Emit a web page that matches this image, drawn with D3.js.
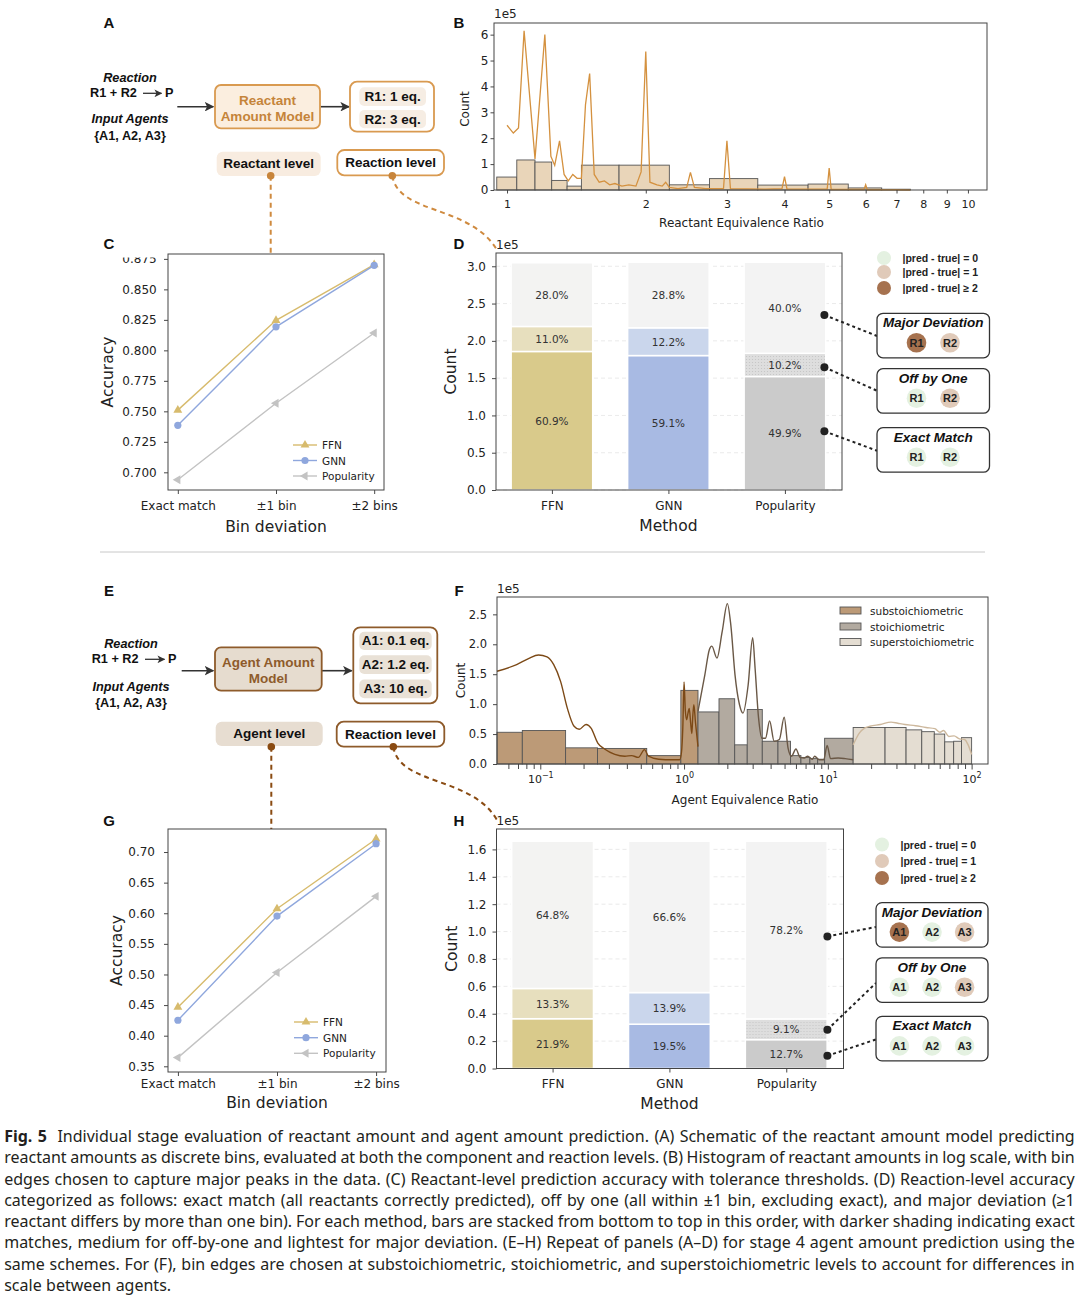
<!DOCTYPE html>
<html>
<head>
<meta charset="utf-8">
<title>Fig. 5</title>
<script src="https://cdn.jsdelivr.net/npm/d3@7"></script>
<style>
  body { margin: 0; background: #fff; }
</style>
</head>
<body>
<div id="fig"></div>
<script>
// ---------------- data ----------------
var methods = ["FFN", "GNN", "Popularity"];
var deviationLabels = ["Exact match", "±1 bin", "±2 bins"];

// (B) reactant equivalence ratio histogram, counts in 1e5
var reactantEdges = [0.95, 1.05, 1.15, 1.25, 1.35, 1.45, 1.75, 2.25, 2.75, 3.5, 4.5, 5.5, 6.5, 7.5];
var reactantCounts = [0.50, 1.16, 1.08, 0.37, 0.15, 0.96, 0.96, 0.20, 0.44, 0.19, 0.23, 0.08, 0.03];
// fine distribution (orange line)
var reactantLineX = [1.00, 1.032, 1.059, 1.089, 1.15, 1.208, 1.245, 1.269, 1.30, 1.33, 1.358, 1.389, 1.419, 1.45, 1.48, 1.511, 1.546, 1.585, 1.627, 1.67, 1.714, 1.775, 1.838, 1.904, 1.954, 2.0, 2.042, 2.115, 2.171, 2.209, 2.25, 2.349, 2.454, 2.5, 2.55, 2.70, 2.949, 3.0, 3.053, 3.64, 3.95, 4.0, 4.05, 4.95, 5.0, 5.05, 5.95, 6.0, 6.05, 7.0, 7.5];
var reactantLineY = [2.50, 2.20, 2.40, 6.15, 1.20, 6.00, 1.30, 0.95, 1.90, 0.60, 0.35, 0.60, 0.45, 0.45, 3.30, 4.50, 0.60, 0.30, 0.35, 0.20, 0.25, 0.15, 0.20, 0.15, 0.70, 5.35, 0.30, 0.20, 0.15, 0.30, 0.10, 0.05, 0.10, 0.68, 0.10, 0.05, 0.05, 1.90, 0.05, 0.03, 0.05, 0.52, 0.03, 0.03, 0.85, 0.02, 0.02, 0.20, 0.01, 0.01, 0.00];

// (C) reactant-level accuracy
var reactantAccFFN = [0.751, 0.8246, 0.8702];
var reactantAccGNN = [0.7385, 0.8193, 0.8697];
var reactantAccPop = [0.6939, 0.7566, 0.8142];

// (D) reaction-level outcome shares [exact, off by one, major], total in 1e5
var reactantTotal = 3.05;
var reactantPctFFN = [60.9, 11.0, 28.0];
var reactantPctGNN = [59.1, 12.2, 28.8];
var reactantPctPop = [49.9, 10.2, 40.0];

// (F) agent equivalence ratio histogram, counts in 1e5
var subEdges = [0.05, 0.075, 0.15, 0.25, 0.55, 0.95, 1.25];
var subCounts = [0.53, 0.56, 0.27, 0.26, 0.14, 1.23];
var stoichEdges = [1.25, 1.75, 2.25, 2.75, 3.5, 4.5, 5.5, 6.5, 7.5, 8.5, 9.5, 15];
var stoichCounts = [0.87, 1.09, 0.32, 0.91, 0.38, 0.38, 0.14, 0.11, 0.09, 0.08, 0.43];
var superEdges = [15, 25, 35, 45, 55, 65, 75, 85, 100];
var superCounts = [0.61, 0.61, 0.57, 0.54, 0.50, 0.37, 0.38, 0.44];
var subLineX = [0.05, 0.0685, 0.0828, 0.0973, 0.1114, 0.124, 0.1384, 0.1543, 0.1718, 0.1866, 0.208, 0.2255, 0.2512, 0.28, 0.33, 0.3875, 0.4317, 0.4809, 0.5306, 0.5662, 0.6668, 0.8279, 0.932, 0.96, 0.98, 1.0, 1.02, 1.043, 1.065, 1.087, 1.11, 1.133, 1.15, 1.17, 1.2, 1.25];
var subLineY = [1.55, 1.66, 1.76, 1.82, 1.79, 1.66, 1.38, 0.93, 0.63, 0.58, 0.66, 0.60, 0.35, 0.25, 0.16, 0.13, 0.14, 0.11, 0.24, 0.13, 0.08, 0.07, 0.07, 0.20, 0.60, 1.37, 0.90, 0.74, 0.85, 0.93, 0.70, 0.51, 0.80, 0.99, 0.70, 0.29];
var stoichLineX = [1.25, 1.395, 1.499, 1.559, 1.694, 1.841, 2.0, 2.115, 2.261, 2.43, 2.568, 2.791, 3.0, 3.119, 3.297, 3.484, 3.683, 3.937, 4.232, 4.6, 4.97, 5.284, 5.585, 6.0, 6.414, 6.856, 7.247, 7.793, 8.1, 8.71, 9.36, 9.89, 10.45, 11.8, 13.2, 15.0];
var stoichLineY = [0.88, 1.49, 1.91, 1.97, 1.77, 2.21, 2.68, 2.32, 1.49, 0.99, 0.85, 1.32, 2.11, 1.60, 0.77, 0.43, 0.43, 0.72, 0.38, 0.41, 0.78, 0.27, 0.13, 0.25, 0.11, 0.10, 0.13, 0.08, 0.13, 0.07, 0.07, 0.31, 0.09, 0.10, 0.09, 0.07];
var superLineX = [15, 16.6, 18.0, 19.6, 23.2, 27.5, 30.7, 34.4, 40.7, 48.2, 55.5, 60.3, 63.8, 69.4, 75.5, 82.2, 89.3, 94.6, 100];
var superLineY = [0.32, 0.52, 0.60, 0.63, 0.66, 0.70, 0.68, 0.66, 0.64, 0.61, 0.59, 0.53, 0.56, 0.46, 0.47, 0.42, 0.41, 0.32, 0.16];
var agentBinNames = ["substoichiometric", "stoichiometric", "superstoichiometric"];

// (G) agent-level accuracy
var agentAccFFN = [0.4465, 0.6073, 0.7213];
var agentAccGNN = [0.4252, 0.5953, 0.7136];
var agentAccPop = [0.3642, 0.5033, 0.6276];

// (H) reaction-level outcome shares [exact, off by one, major], total in 1e5
var agentTotal = 1.66;
var agentPctFFN = [21.9, 13.3, 64.8];
var agentPctGNN = [19.5, 13.9, 66.6];
var agentPctPop = [12.7, 9.1, 78.2];

// category legend + example boxes (0 = exact, 1 = off by one, 2 = major)
var deviationLegend = ["|pred - true| = 0", "|pred - true| = 1", "|pred - true| ≥ 2"];
var reactantBoxes = [
  {title: "Major Deviation", items: ["R1", "R2"], states: [2, 1]},
  {title: "Off by One", items: ["R1", "R2"], states: [0, 1]},
  {title: "Exact Match", items: ["R1", "R2"], states: [0, 0]}
];
var agentBoxes = [
  {title: "Major Deviation", items: ["A1", "A2", "A3"], states: [2, 0, 1]},
  {title: "Off by One", items: ["A1", "A2", "A3"], states: [0, 0, 1]},
  {title: "Exact Match", items: ["A1", "A2", "A3"], states: [0, 0, 0]}
];

var captionLines = [
  "Fig. 5 Individual stage evaluation of reactant amount and agent amount prediction. (A) Schematic of the reactant amount model predicting",
  "reactant amounts as discrete bins, evaluated at both the component and reaction levels. (B) Histogram of reactant amounts in log scale, with bin",
  "edges chosen to capture major peaks in the data. (C) Reactant-level prediction accuracy with tolerance thresholds. (D) Reaction-level accuracy",
  "categorized as follows: exact match (all reactants correctly predicted), off by one (all within ±1 bin, excluding exact), and major deviation (≥1",
  "reactant differs by more than one bin). For each method, bars are stacked from bottom to top in this order, with darker shading indicating exact",
  "matches, medium for off-by-one and lightest for major deviation. (E–H) Repeat of panels (A–D) for stage 4 agent amount prediction using the",
  "same schemes. For (F), bin edges are chosen at substoichiometric, stoichiometric, and superstoichiometric levels to account for differences in",
  "scale between agents."
];

// ---------------- styles ----------------
var seriesStyle = [
  {name: "FFN", color: "#d7bb6d", symbol: "up"},
  {name: "GNN", color: "#8fa7dd", symbol: "circle"},
  {name: "Popularity", color: "#c3c3c3", symbol: "left"}
];
var stackColors = {
  FFN: ["#d9ca8b", "#e7dfbe", "#f3f3f2"],
  GNN: ["#a8bae3", "#cad6ec", "#f3f3f3"],
  Popularity: ["#cbcbcb", "url(#speckle)", "#f3f3f3"]
};
var deviationColors = ["#e4f1e1", "#e0cab9", "#a6724f"];
var agentBinColors = ["#bc9a77", "#b2aaa0", "#e4ddd2"];
var agentLineColors = ["#7c4916", "#6a5846", "#cdb89d"];
var sansFont = "'DejaVu Sans', sans-serif";
var arialFont = "'Liberation Sans', Arial, sans-serif";

var svg = d3.select("#fig")
  .append("svg")
  .attr("width", 1080)
  .attr("height", 1295)
  .style("font-family", sansFont);

var defs = svg.append("defs");
var speckle = defs.append("pattern")
  .attr("id", "speckle")
  .attr("width", 3).attr("height", 3)
  .attr("patternUnits", "userSpaceOnUse");
speckle.append("rect").attr("width", 3).attr("height", 3).attr("fill", "#dedede");
speckle.append("circle").attr("cx", 1.5).attr("cy", 1.5).attr("r", 0.6).attr("fill", "#c4c4c4");

function addArrowMarker(id, color) {
  defs.append("marker")
    .attr("id", id)
    .attr("viewBox", "0 0 10 10")
    .attr("refX", 9).attr("refY", 5)
    .attr("markerWidth", 6).attr("markerHeight", 6)
    .attr("orient", "auto")
    .append("path")
    .attr("d", "M0,0 L10,5 L0,10 L2.5,5 z")
    .attr("fill", color);
}
addArrowMarker("arrowDark", "#333");

// ---------------- helpers ----------------
function panelLetter(t, x, y) {
  svg.append("text")
    .attr("x", x).attr("y", y)
    .attr("text-anchor", "middle")
    .attr("dominant-baseline", "central")
    .attr("font-family", arialFont)
    .attr("font-weight", "bold")
    .attr("font-size", 15)
    .attr("fill", "#111")
    .text(t);
}

function plainText(g, x, y, txt, size, anchor, rotate) {
  var t = g.append("text")
    .attr("x", x).attr("y", y)
    .attr("text-anchor", anchor || "middle")
    .attr("dominant-baseline", "central")
    .attr("font-size", size)
    .attr("fill", "#222")
    .text(txt);
  if (rotate) t.attr("transform", `rotate(-90, ${x}, ${y})`);
  return t;
}

function styleAxis(sel, size) {
  sel.select(".domain").remove();
  sel.selectAll(".tick line").attr("stroke", "#333").attr("stroke-width", 0.9);
  sel.selectAll(".tick text")
    .attr("fill", "#222")
    .attr("font-size", size)
    .attr("font-family", sansFont);
}

function addFrame(g, w, h) {
  g.append("rect")
    .attr("width", w).attr("height", h)
    .attr("fill", "none")
    .attr("stroke", "#444")
    .attr("stroke-width", 1);
}

function schemText(g, x, y, txt, size, fill, italic, anchor) {
  return g.append("text")
    .attr("x", x).attr("y", y)
    .attr("text-anchor", anchor || "middle")
    .attr("dominant-baseline", "central")
    .attr("font-family", arialFont)
    .attr("font-weight", "bold")
    .attr("font-style", italic ? "italic" : "normal")
    .attr("font-size", size)
    .attr("fill", fill)
    .text(txt);
}

// ---------------- schematics (A, E) ----------------
function drawSchematic(s) {
  var g = svg.append("g");
  schemText(g, s.rxnX, s.rxnY[0], "Reaction", 12.7, "#111", true);
  schemText(g, s.eqnLeft, s.rxnY[1], "R1 + R2", 12.7, "#111", false, "start");
  g.append("line")
    .attr("x1", s.eqnArrow[0]).attr("x2", s.eqnArrow[1])
    .attr("y1", s.rxnY[1]).attr("y2", s.rxnY[1])
    .attr("stroke", "#333").attr("stroke-width", 1.3)
    .attr("marker-end", "url(#arrowDark)");
  schemText(g, s.eqnArrow[1] + 3.5, s.rxnY[1], "P", 12.7, "#111", false, "start");
  schemText(g, s.rxnX, s.rxnY[2], "Input Agents", 12.7, "#111", true);
  schemText(g, s.rxnX, s.rxnY[3], "{A1, A2, A3}", 12.7, "#111", false);

  // arrows
  [s.arrow1, s.arrow2].forEach(function(a) {
    g.append("line")
      .attr("x1", a[0]).attr("x2", a[1]).attr("y1", a[2]).attr("y2", a[2])
      .attr("stroke", "#333").attr("stroke-width", 1.6)
      .attr("marker-end", "url(#arrowDark)");
  });

  // model box
  var m = s.model;
  g.append("rect")
    .attr("x", m[0]).attr("y", m[1]).attr("width", m[2]).attr("height", m[3])
    .attr("rx", 6).attr("fill", s.modelFill).attr("stroke", s.stroke).attr("stroke-width", 1.8);
  s.modelLines.forEach(function(t, i) {
    schemText(g, m[0] + m[2] / 2, s.modelTextY[i], t, 13.5, s.textColor, false);
  });

  // output box with pills
  var o = s.out;
  g.append("rect")
    .attr("x", o[0]).attr("y", o[1]).attr("width", o[2]).attr("height", o[3])
    .attr("rx", 7).attr("fill", "#fff").attr("stroke", s.stroke).attr("stroke-width", 1.8);
  s.pills.forEach(function(p) {
    g.append("rect")
      .attr("x", p[0]).attr("y", p[1]).attr("width", p[2]).attr("height", p[3])
      .attr("rx", 5).attr("fill", s.pillFill);
    schemText(g, p[0] + p[2] / 2, p[1] + p[3] / 2, p[4], 13.5, "#111", false);
  });

  // level tags
  var l1 = s.level1, l2 = s.level2;
  g.append("rect")
    .attr("x", l1[0]).attr("y", l1[1]).attr("width", l1[2]).attr("height", l1[3])
    .attr("rx", 6).attr("fill", s.levelFill);
  schemText(g, l1[0] + l1[2] / 2, l1[1] + l1[3] / 2, l1[4], 13.5, "#111", false);
  g.append("rect")
    .attr("x", l2[0]).attr("y", l2[1]).attr("width", l2[2]).attr("height", l2[3])
    .attr("rx", 7).attr("fill", "#fff").attr("stroke", s.stroke).attr("stroke-width", 1.8);
  schemText(g, l2[0] + l2[2] / 2, l2[1] + l2[3] / 2, l2[4], 13.5, "#111", false);

  // dashed connectors to the panels below
  var d1 = s.dots[0], d2 = s.dots[1];
  g.append("line")
    .attr("x1", d1[0]).attr("x2", d1[0]).attr("y1", d1[1]).attr("y2", s.vEnd)
    .attr("stroke", s.dash).attr("stroke-width", 2).attr("stroke-dasharray", "5,4");
  g.append("path")
    .attr("d", `M${d2[0]},${d2[1]} C${d2[0] + 6},${d2[1] + 39} ${d2[0] + 78},${d2[1] + 29} ${s.cEnd[0]},${s.cEnd[1]}`)
    .attr("fill", "none")
    .attr("stroke", s.dash).attr("stroke-width", 2).attr("stroke-dasharray", "5,4");
  s.dots.forEach(function(d) {
    g.append("circle").attr("cx", d[0]).attr("cy", d[1]).attr("r", 3.8).attr("fill", s.dotColor);
  });
}

// ---------------- accuracy panels (C, G) ----------------
function drawAccuracy(p) {
  var g = svg.append("g").attr("transform", `translate(${p.left}, ${p.top})`);
  var x = d3.scaleLinear().domain([-0.1, 2.1]).range([0, p.width]);
  var y = d3.scaleLinear().domain(p.yDomain).range([p.height, 0]);

  var yAxis = g.append("g")
    .call(d3.axisLeft(y).tickValues(p.yTicks).tickFormat(d3.format(p.fmt)).tickSize(4).tickPadding(p.yPad));
  styleAxis(yAxis, 12);
  if (p.clipTop) {
    // the top tick label is half hidden in the original
    defs.append("clipPath").attr("id", p.clipTop.id)
      .append("rect").attr("x", -80).attr("y", p.clipTop.y).attr("width", 80).attr("height", p.height + 20);
    yAxis.attr("clip-path", `url(#${p.clipTop.id})`);
  }

  var xAxis = g.append("g")
    .attr("transform", `translate(0, ${p.height})`)
    .call(d3.axisBottom(x).tickValues([0, 1, 2]).tickFormat(i => deviationLabels[i]).tickSize(4));
  styleAxis(xAxis, 12);
  xAxis.selectAll(".tick text").attr("y", p.xLabelOffset).attr("dy", null).attr("dominant-baseline", "central");

  var line = d3.line().x((d, i) => x(i)).y(d => y(d));
  p.series.forEach(function(vals, si) {
    var st = seriesStyle[si];
    g.append("path").datum(vals)
      .attr("d", line)
      .attr("fill", "none")
      .attr("stroke", st.color)
      .attr("stroke-width", 1.4);
    vals.forEach(function(v, i) {
      drawMarker(g, st.symbol, x(i), y(v), st.color);
    });
  });

  // legend
  seriesStyle.forEach(function(st, i) {
    var ly = p.legendY[i] - p.top;
    var lx0 = p.legendX - p.left;
    g.append("line")
      .attr("x1", lx0).attr("x2", lx0 + 24).attr("y1", ly).attr("y2", ly)
      .attr("stroke", st.color).attr("stroke-width", 1.4);
    drawMarker(g, st.symbol, lx0 + 12, ly, st.color);
    plainText(g, lx0 + 29, ly, st.name, 10.5, "start");
  });

  addFrame(g, p.width, p.height);
  plainText(svg, p.yLabelX, p.top + p.height / 2, "Accuracy", 15.5, "middle", true);
  plainText(svg, p.left + p.width / 2, p.xLabelY, "Bin deviation", 15.5);
}

function drawMarker(g, type, cx, cy, color) {
  if (type === "circle") {
    g.append("circle").attr("cx", cx).attr("cy", cy).attr("r", 3.6).attr("fill", color);
  } else {
    g.append("path")
      .attr("d", d3.symbol(d3.symbolTriangle, 34)())
      .attr("transform", `translate(${cx},${cy}) rotate(${type === "left" ? -90 : 0})`)
      .attr("fill", color);
  }
}

// ---------------- stacked outcome panels (D, H) ----------------
function drawStacked(p) {
  var g = svg.append("g").attr("transform", `translate(${p.left}, ${p.top})`);
  var x = d3.scaleLinear().domain([-0.48, 2.49]).range([0, p.width]);
  var y = d3.scaleLinear().domain([0, p.yMax]).range([p.height, 0]);

  // dashed grid
  g.selectAll(null).data(p.yTicks).enter().append("line")
    .attr("x1", 0).attr("x2", p.width)
    .attr("y1", d => y(d)).attr("y2", d => y(d))
    .attr("stroke", "#e4e4e4").attr("stroke-width", 0.8).attr("stroke-dasharray", "4,3");

  methods.forEach(function(m, i) {
    var base = 0;
    p.pcts[i].forEach(function(pct, j) {
      var c = pct / 100 * p.total;
      g.append("rect")
        .attr("x", x(i - 0.35))
        .attr("width", x(i + 0.35) - x(i - 0.35))
        .attr("y", y(base + c))
        .attr("height", y(base) - y(base + c))
        .attr("fill", stackColors[m][j])
        .attr("stroke", "#fff")
        .attr("stroke-width", 1.5);
      plainText(g, x(i), y(base + c / 2), d3.format(".1f")(pct) + "%", 10.5).attr("fill", "#333");
      base += c;
    });
  });

  var yAxis = g.append("g")
    .call(d3.axisLeft(y).tickValues(p.yTicks).tickFormat(d3.format(".1f")).tickSize(4).tickPadding(6));
  styleAxis(yAxis, 12);
  var xAxis = g.append("g")
    .attr("transform", `translate(0, ${p.height})`)
    .call(d3.axisBottom(x).tickValues([0, 1, 2]).tickFormat(i => methods[i]).tickSize(4));
  styleAxis(xAxis, 12);
  xAxis.selectAll(".tick text").attr("y", 15.7).attr("dy", null).attr("dominant-baseline", "central");

  addFrame(g, p.width, p.height);
  plainText(svg, p.left, p.top - 8, "1e5", 12, "start");
  plainText(svg, p.countX, p.top + p.height / 2, "Count", 15.5, "middle", true);
  plainText(svg, p.left + x(1), p.methodY, "Method", 15.5);

  // legend of deviation colours
  deviationLegend.forEach(function(t, i) {
    svg.append("circle").attr("cx", p.legendX).attr("cy", p.legendY[i]).attr("r", 7).attr("fill", deviationColors[i]);
    schemText(svg, p.legendX + 18.5, p.legendY[i], t, 10.5, "#222", false, "start");
  });

  // example boxes with dotted connectors
  p.boxes.forEach(function(b, i) {
    var top = p.boxTops[i];
    svg.append("line")
      .attr("x1", p.dotX).attr("y1", p.dotY[i])
      .attr("x2", p.boxLeft).attr("y2", p.lineEndY[i])
      .attr("stroke", "#222").attr("stroke-width", 2).attr("stroke-dasharray", "3,3");
    svg.append("circle").attr("cx", p.dotX).attr("cy", p.dotY[i]).attr("r", 4).attr("fill", "#222");
    svg.append("rect")
      .attr("x", p.boxLeft).attr("y", top).attr("width", p.boxWidth).attr("height", 44.5)
      .attr("rx", 6).attr("fill", "#fff").attr("stroke", "#333").attr("stroke-width", 1.3);
    var cx = p.boxLeft + p.boxWidth / 2;
    schemText(svg, cx, top + 9.5, b.title, 13.5, "#111", true);
    var n = b.items.length;
    b.items.forEach(function(it, k) {
      var ix = cx + (k - (n - 1) / 2) * p.itemStep;
      svg.append("circle").attr("cx", ix).attr("cy", top + 29.5).attr("r", 9.8).attr("fill", deviationColors[b.states[k]]);
      schemText(svg, ix, top + 29.5, it, 11, "#222", false);
    });
  });
}

// ---------------- histogram panels (B, F) ----------------
function drawBins(g, x, y, edges, counts, fill) {
  g.selectAll(null).data(counts).enter().append("rect")
    .attr("x", (d, i) => x(edges[i]))
    .attr("width", (d, i) => x(edges[i + 1]) - x(edges[i]))
    .attr("y", d => y(d))
    .attr("height", d => y(0) - y(d))
    .attr("fill", fill)
    .attr("stroke", "#555")
    .attr("stroke-width", 0.9);
}

function drawReactantHist() {
  var left = 494, top = 23, w = 493, h = 167;
  var g = svg.append("g").attr("transform", `translate(${left}, ${top})`);
  var x = d3.scaleLog().domain([0.937, 11]).range([0, w]);
  var y = d3.scaleLinear().domain([0, 6.45]).range([h, 0]);

  drawBins(g, x, y, reactantEdges, reactantCounts, "#e9d5b9");
  g.append("path")
    .datum(reactantLineX.map((v, i) => [v, reactantLineY[i]]))
    .attr("d", d3.line().x(d => x(d[0])).y(d => y(d[1])))
    .attr("fill", "none")
    .attr("stroke", "#d4913f")
    .attr("stroke-width", 1.3);

  var yAxis = g.append("g").call(d3.axisLeft(y).tickValues([0, 1, 2, 3, 4, 5, 6]).tickFormat(d3.format("d")).tickSize(3.5).tickPadding(2));
  styleAxis(yAxis, 12);
  var xAxis = g.append("g")
    .attr("transform", `translate(0, ${h})`)
    .call(d3.axisBottom(x).tickValues([1, 2, 3, 4, 5, 6, 7, 8, 9, 10]).tickFormat(d3.format("d")).tickSize(3.5));
  styleAxis(xAxis, 11);
  xAxis.selectAll(".tick text").attr("y", 14).attr("dy", null).attr("dominant-baseline", "central");

  addFrame(g, w, h);
  plainText(svg, left, 14, "1e5", 12, "start");
  plainText(svg, 464.5, 109, "Count", 12, "middle", true);
  plainText(svg, 741.5, 222.5, "Reactant Equivalence Ratio", 12);
}

function drawAgentHist() {
  var left = 497, top = 597, w = 491, h = 167;
  var g = svg.append("g").attr("transform", `translate(${left}, ${top})`);
  var x = d3.scaleLog().domain([0.05, 130]).range([0, w]);
  var y = d3.scaleLinear().domain([0, 2.79]).range([h, 0]);

  drawBins(g, x, y, subEdges, subCounts, agentBinColors[0]);
  drawBins(g, x, y, stoichEdges, stoichCounts, agentBinColors[1]);
  drawBins(g, x, y, superEdges, superCounts, agentBinColors[2]);

  var line = d3.line().x(d => x(d[0])).y(d => y(d[1])).curve(d3.curveMonotoneX);
  [[subLineX, subLineY], [stoichLineX, stoichLineY], [superLineX, superLineY]].forEach(function(s, i) {
    g.append("path")
      .datum(s[0].map((v, k) => [v, s[1][k]]))
      .attr("d", line)
      .attr("fill", "none")
      .attr("stroke", agentLineColors[i])
      .attr("stroke-width", 1.4);
  });

  var yAxis = g.append("g").call(d3.axisLeft(y).tickValues([0, 0.5, 1, 1.5, 2, 2.5]).tickFormat(d3.format(".1f")).tickSize(4).tickPadding(6));
  styleAxis(yAxis, 11.5);

  // log axis: minor ticks then labelled decades
  var minor = [];
  [0.01, 0.1, 1, 10].forEach(function(dec) {
    for (var k = 2; k <= 9; k++) {
      var v = dec * k;
      if (v > 0.05 && v < 130) minor.push(v);
    }
  });
  var minorAxis = g.append("g")
    .attr("transform", `translate(0, ${h})`)
    .call(d3.axisBottom(x).tickValues(minor).tickFormat("").tickSize(5));
  styleAxis(minorAxis, 11);
  var xAxis = g.append("g")
    .attr("transform", `translate(0, ${h})`)
    .call(d3.axisBottom(x).tickValues([0.1, 1, 10, 100]).tickFormat("").tickSize(5.5));
  styleAxis(xAxis, 11);
  var expLabels = {0.1: "−1", 1: "0", 10: "1", 100: "2"};
  xAxis.selectAll(".tick").each(function(d) {
    var t = d3.select(this).append("text")
      .attr("y", 18.5)
      .attr("text-anchor", "middle")
      .attr("font-size", 11)
      .attr("font-family", sansFont)
      .attr("fill", "#222");
    t.append("tspan").text("10");
    t.append("tspan").attr("dy", -5).attr("font-size", 8).text(expLabels[d]);
  });

  addFrame(g, w, h);

  // legend
  agentBinNames.forEach(function(nm, i) {
    var ly = [610.5, 626.5, 642][i];
    svg.append("rect")
      .attr("x", 840).attr("y", ly - 3.5).attr("width", 21).attr("height", 7)
      .attr("fill", agentBinColors[i]).attr("stroke", "#555").attr("stroke-width", 0.9);
    plainText(svg, 870, ly, nm, 10.5, "start");
  });

  plainText(svg, left, 589, "1e5", 12, "start");
  plainText(svg, 460.5, 680.5, "Count", 12, "middle", true);
  plainText(svg, 745, 800, "Agent Equivalence Ratio", 12);
}

// ---------------- build the figure ----------------
panelLetter("A", 109, 22);
panelLetter("B", 459, 22);
panelLetter("C", 109, 243);
panelLetter("D", 459, 243);
panelLetter("E", 109, 590);
panelLetter("F", 459, 590);
panelLetter("G", 109, 820);
panelLetter("H", 459, 820);

drawSchematic({
  stroke: "#d99a50", modelFill: "#fbeedf", textColor: "#c5843a", pillFill: "#f6ede3",
  levelFill: "#f8ece0", dotColor: "#c8853b", dash: "#cf8a3f",
  rxnX: 130, rxnY: [77.7, 93.3, 119.3, 136], eqnLeft: 90, eqnArrow: [143, 161.5],
  arrow1: [177.3, 213.3, 106.7], arrow2: [320.5, 349, 106.7],
  model: [215, 85, 105, 43.3], modelLines: ["Reactant", "Amount Model"], modelTextY: [100, 116],
  out: [350, 81.7, 84, 50],
  pills: [[359.3, 87.3, 66.7, 18.7, "R1: 1 eq."], [359.3, 110, 66.7, 18.3, "R2: 3 eq."]],
  level1: [216.7, 151.7, 104, 24.3, "Reactant level"],
  level2: [337.3, 150, 106.7, 25.3, "Reaction level"],
  dots: [[270.7, 175.7], [392.3, 175.7]], vEnd: 254, cEnd: [497, 250]
});

drawSchematic({
  stroke: "#8e5b2b", modelFill: "#e6dccf", textColor: "#8e5b2b", pillFill: "#e9e1d6",
  levelFill: "#e7ddd1", dotColor: "#8a4b12", dash: "#8a4b12",
  rxnX: 131, rxnY: [644, 659.3, 687.3, 703.3], eqnLeft: 91.7, eqnArrow: [145, 164.5],
  arrow1: [181.7, 213.3, 670.7], arrow2: [322, 351.7, 670.7],
  model: [215, 647.3, 106.7, 43.4], modelLines: ["Agent Amount", "Model"], modelTextY: [662.7, 678.3],
  out: [353.3, 627.3, 84, 76],
  pills: [[359.3, 631.7, 72.4, 18.3, "A1: 0.1 eq."], [359.3, 655.3, 72.4, 18.7, "A2: 1.2 eq."], [359.3, 679.6, 72.4, 18.7, "A3: 10 eq."]],
  level1: [215.7, 721.7, 107, 24.3, "Agent level"],
  level2: [336.7, 721.7, 107.6, 25, "Reaction level"],
  dots: [[271.3, 746.7], [393.3, 746.7]], vEnd: 829, cEnd: [497, 820]
});

drawReactantHist();

drawAccuracy({
  left: 168, top: 254, width: 216, height: 236,
  yDomain: [0.6855, 0.879], yTicks: [0.700, 0.725, 0.750, 0.775, 0.800, 0.825, 0.850, 0.875],
  fmt: ".3f", yPad: 7.3, clipTop: {id: "clipC", y: 3.5},
  series: [reactantAccFFN, reactantAccGNN, reactantAccPop],
  xLabelOffset: 16, xLabelY: 526.7, yLabelX: 108.3,
  legendX: 293, legendY: [445, 460.5, 476]
});

drawStacked({
  left: 496, top: 253, width: 346, height: 237, yMax: 3.178,
  yTicks: [0, 0.5, 1.0, 1.5, 2.0, 2.5, 3.0], total: reactantTotal,
  pcts: [reactantPctFFN, reactantPctGNN, reactantPctPop],
  countX: 450.6, methodY: 525.7,
  legendX: 884, legendY: [258, 272, 288],
  boxes: reactantBoxes, boxLeft: 877, boxWidth: 112.5, boxTops: [313.3, 368.7, 427.7], itemStep: 33.5,
  dotX: 824.4, dotY: [315, 367.3, 431.3], lineEndY: [336, 390.7, 450.7]
});

// divider between the reactant and agent halves
svg.append("line")
  .attr("x1", 100).attr("x2", 985).attr("y1", 552).attr("y2", 552)
  .attr("stroke", "#c8c8c8").attr("stroke-width", 1);

drawAgentHist();

drawAccuracy({
  left: 168, top: 829, width: 218, height: 243,
  yDomain: [0.3407, 0.7376], yTicks: [0.35, 0.40, 0.45, 0.50, 0.55, 0.60, 0.65, 0.70],
  fmt: ".2f", yPad: 9, clipTop: null,
  series: [agentAccFFN, agentAccGNN, agentAccPop],
  xLabelOffset: 11.6, xLabelY: 1103.3, yLabelX: 116.7,
  legendX: 294, legendY: [1022, 1037.7, 1053.3]
});

drawStacked({
  left: 496.5, top: 829, width: 347, height: 239.5, yMax: 1.749,
  yTicks: [0, 0.2, 0.4, 0.6, 0.8, 1.0, 1.2, 1.4, 1.6], total: agentTotal,
  pcts: [agentPctFFN, agentPctGNN, agentPctPop],
  countX: 451.7, methodY: 1104.3,
  legendX: 882, legendY: [844.5, 861, 878],
  boxes: agentBoxes, boxLeft: 876, boxWidth: 112, boxTops: [902.6, 957.8, 1016.4], itemStep: 32.6,
  dotX: 827.4, dotY: [936.4, 1029.7, 1055.8], lineEndY: [927, 983, 1039.4]
});

// ---------------- caption, justified word by word ----------------
var capLeft = 4.2, capWidth = 1070.5, capTop = 1142, capStep = 21.26;
captionLines.forEach(function(line, li) {
  var words = line.split(" ");
  var t = svg.append("text")
    .attr("y", capTop + li * capStep)
    .attr("font-family", "'Noto Sans', sans-serif")
    .attr("font-size", 16)
    .attr("fill", "#231f20");
  var spans = words.map(function(wd, wi) {
    return t.append("tspan")
      .attr("font-weight", (li === 0 && wi < 2) ? "bold" : "normal")
      .text(wd);
  });
  var widths = spans.map(s => s.node().getComputedTextLength());
  var extra = li === 0 ? 5 : 0;
  var gap = li < captionLines.length - 1 ? (capWidth - d3.sum(widths) - extra) / (words.length - 1) : 4.4;
  var xPos = capLeft;
  spans.forEach(function(s, i) {
    s.attr("x", xPos);
    xPos += widths[i] + gap + (li === 0 && i === 1 ? extra : 0);
  });
});
</script>
</body>
</html>
